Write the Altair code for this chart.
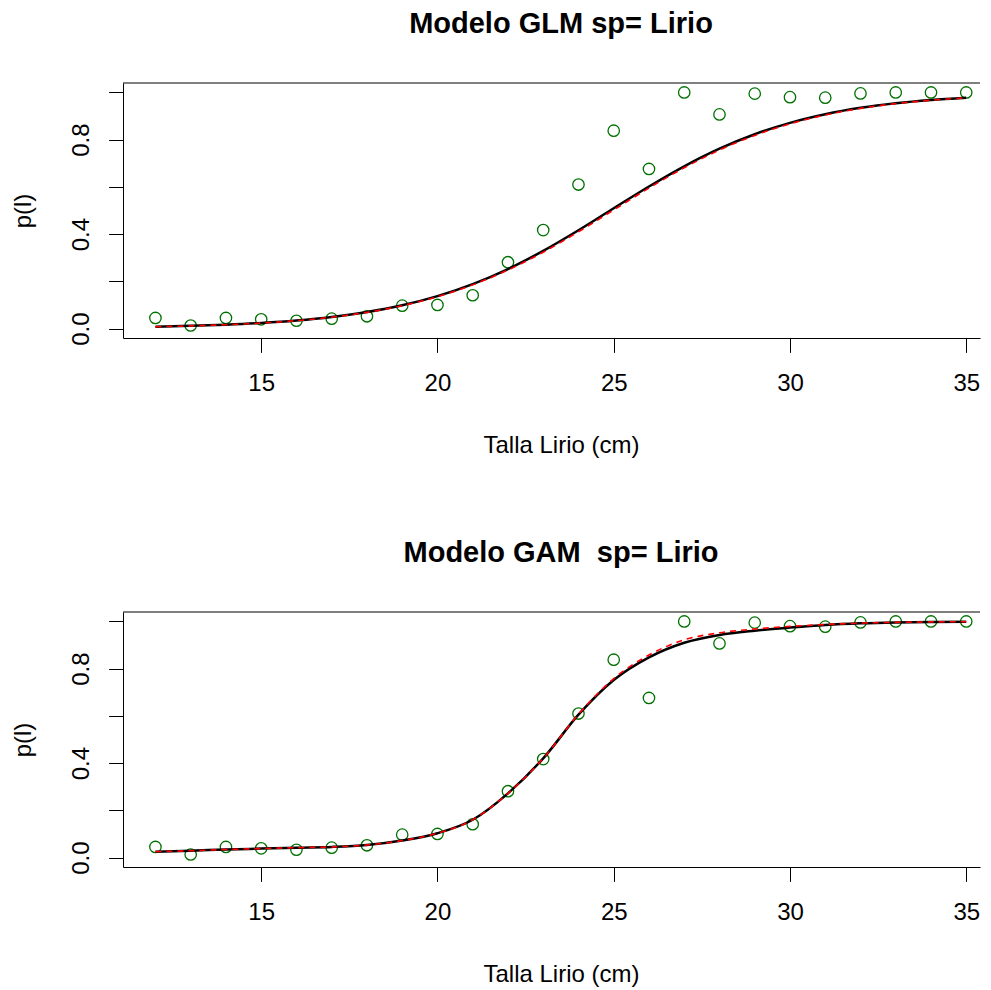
import altair as alt
import pandas as pd

# ---- data ----
talla = list(range(12, 36))
observed = [0.045, 0.013, 0.045, 0.039, 0.033, 0.042, 0.052, 0.097, 0.100, 0.141,
            0.281, 0.417, 0.610, 0.838, 0.676, 1.000, 0.907, 0.995, 0.980, 0.978,
            0.996, 1.000, 1.000, 1.000]

glm_black = [0.0079, 0.0114, 0.0165, 0.0238, 0.0343, 0.0492, 0.0699, 0.0986, 0.1374, 0.1882,
             0.2521, 0.3290, 0.4164, 0.5094, 0.6017, 0.6873, 0.7618, 0.8231, 0.8713, 0.9078,
             0.9348, 0.9543, 0.9681, 0.9778]
glm_red = [0.0078, 0.0112, 0.0162, 0.0233, 0.0336, 0.0482, 0.0685, 0.0968, 0.1350, 0.1850,
           0.2480, 0.3235, 0.4100, 0.5025, 0.5950, 0.6810, 0.7560, 0.8180, 0.8670, 0.9045,
           0.9325, 0.9525, 0.9670, 0.9770]

gam_black = [0.025, 0.029, 0.034, 0.038, 0.042, 0.045, 0.053, 0.072, 0.103, 0.160,
             0.272, 0.420, 0.605, 0.752, 0.848, 0.910, 0.943, 0.961, 0.974, 0.985,
             0.992, 0.996, 0.998, 0.999]
gam_red = [0.025, 0.029, 0.034, 0.038, 0.042, 0.045, 0.053, 0.072, 0.103, 0.160,
           0.272, 0.420, 0.607, 0.758, 0.858, 0.922, 0.952, 0.968, 0.979, 0.987,
           0.993, 0.996, 0.998, 0.999]

x_ticks = [15, 20, 25, 30, 35]
y_ticks = [0.0, 0.2, 0.4, 0.6, 0.8, 1.0]

titles = ["Modelo GLM sp= Lirio", "Modelo GAM\u00a0 sp= Lirio"]
x_title = "Talla Lirio (cm)"
y_title = "p(l)"

FONT = "Liberation Sans"
GREEN = "#007000"
W, H = 857, 255


def panel(title, fit_black, fit_red):
    df = pd.DataFrame({"talla": talla, "obs": observed,
                       "fit": fit_black, "fit2": fit_red})
    xs = alt.Scale(domain=[11.08, 35.39], nice=False, zero=False)
    ys = alt.Scale(domain=[-0.04, 1.04], nice=False, zero=False)
    xaxis = alt.Axis(values=x_ticks, title=x_title, grid=False, domain=True,
                     tickSize=14.4, labelPadding=38, labelBaseline="alphabetic",
                     labelFlush=False, labelOverlap=False,
                     labelFont=FONT, labelFontSize=24, labelColor="black",
                     titleFont=FONT, titleFontSize=24, titleColor="black",
                     titleFontWeight="normal",
                     tickColor="black", domainColor="black",
                     titleX=438, titleY=114, titleBaseline="alphabetic",
                     titleAlign="center")
    yaxis = alt.Axis(values=y_ticks, title=y_title, grid=False, domain=True,
                     tickSize=14.4, labelPadding=20.3, labelAngle=270,
                     labelAlign="center", labelBaseline="alphabetic",
                     labelFlush=False, labelOverlap=False,
                     labelFont=FONT, labelFontSize=24, labelColor="black",
                     titleFont=FONT, titleFontSize=24, titleColor="black",
                     titleFontWeight="normal",
                     tickColor="black", domainColor="black",
                     labelExpr="round(datum.value*10) % 4 == 0 ? format(datum.value, '.1f') : ''",
                     titleAngle=270, titleX=-93, titleY=H / 2,
                     titleBaseline="alphabetic", titleAlign="center")
    base = alt.Chart(df)
    pts = base.mark_point(shape="circle", filled=False, size=130,
                          strokeWidth=1.3, color=GREEN, opacity=1).encode(
        x=alt.X("talla:Q", scale=xs, axis=xaxis),
        y=alt.Y("obs:Q", scale=ys, axis=yaxis),
    )
    black = base.mark_line(color="black", strokeWidth=2.5,
                           interpolate="monotone").encode(
        x=alt.X("talla:Q", scale=xs), y=alt.Y("fit:Q", scale=ys))
    red = base.mark_line(color="red", strokeWidth=1.6, strokeDash=[6, 5],
                         interpolate="monotone").encode(
        x=alt.X("talla:Q", scale=xs), y=alt.Y("fit2:Q", scale=ys))
    top = alt.Chart(pd.DataFrame({"k": [0]})).mark_rule(
        color="black", strokeWidth=1).encode(
        x=alt.value(0), x2=alt.value(W), y=alt.value(0))
    return alt.layer(pts, black, red, top).properties(
        width=W, height=H,
        title=alt.TitleParams(title, fontSize=29, font=FONT, fontWeight="bold",
                              color="black", anchor="middle", frame="group",
                              offset=21, baseline="alphabetic", dx=9.5),
    )


chart = alt.vconcat(
    panel(titles[0], glm_black, glm_red),
    panel(titles[1], gam_black, gam_red),
    spacing=80,
).properties(
    padding={"left": 2, "top": 1, "right": 0, "bottom": 0},
    background="white",
).configure_view(
    stroke="transparent"
)

chart.save("out.html", embed_options={"renderer": "svg", "actions": False})
